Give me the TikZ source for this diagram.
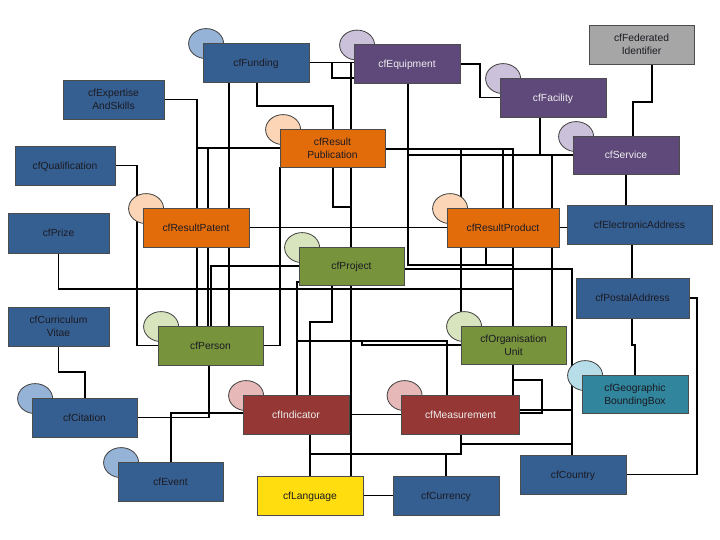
\documentclass[tikz,border=0pt]{standalone}
\usepackage{fontspec}
\setmainfont{Liberation Sans}
\usetikzlibrary{shapes.geometric,calc}
\pgfdeclarelayer{bg}
\pgfdeclarelayer{lines}
\pgfdeclarelayer{blobs}
\pgfsetlayers{bg,lines,blobs,main}
\definecolor{cblue}{HTML}{365F91}
\definecolor{eblue}{HTML}{95B3D7}
\definecolor{cpurple}{HTML}{5F497A}
\definecolor{epurple}{HTML}{CCC1DA}
\definecolor{corange}{HTML}{E36C0A}
\definecolor{eorange}{HTML}{FBD5B5}
\definecolor{cgreen}{HTML}{77933C}
\definecolor{egreen}{HTML}{D7E4BD}
\definecolor{cred}{HTML}{953735}
\definecolor{ered}{HTML}{E6B9B8}
\definecolor{cteal}{HTML}{31859C}
\definecolor{eteal}{HTML}{B7DEE8}
\definecolor{cgrey}{HTML}{A6A6A6}
\definecolor{cyellow}{HTML}{FFDD0F}
\definecolor{tdark}{HTML}{1A1A22}
\definecolor{tlight}{HTML}{EEEEEE}
\begin{document}
\begin{tikzpicture}[x=1pt,y=-1pt,
  ent/.style={draw=black!70, line width=0.8pt, inner sep=0pt, align=center,
    font=\fontsize{10.3}{12.8}\selectfont, text=tdark, text depth=-0.8pt,
    minimum width=106pt, minimum height=39pt},
  lightent/.style={ent, text=tlight},
  blob/.style={ellipse, draw=black!75, line width=0.8pt, inner sep=0pt,
    minimum width=35pt, minimum height=30pt},
  conn/.style={draw=black, line width=1.5pt}]
\begin{pgfonlayer}{bg}
\fill[white] (0,0) rectangle (720,540);
\end{pgfonlayer}
\useasboundingbox (0,0) rectangle (720,540);

% entities
\node[ent, fill=cblue] (funding) at (256,62.5) {cfFunding};
\node[lightent, fill=cpurple] (equipment) at (407,64) {cfEquipment};
\node[ent, fill=cgrey, minimum width=105pt] (federated) at (641.5,44.5) {cfFederated\\Identifier};
\node[lightent, fill=cpurple] (facility) at (553,97.5) {cfFacility};
\node[lightent, fill=cpurple, minimum height=38pt] (service) at (626,155) {cfService};
\node[ent, fill=cblue, minimum width=101pt] (expertise) at (113.5,99.5) {cfExpertise\\AndSkills};
\node[ent, fill=cblue, minimum width=100pt] (qualification) at (65,165.5) {cfQualification};
\node[ent, fill=corange, minimum width=105pt, minimum height=38pt] (resultpub) at (332.5,148) {cfResult\\Publication};
\node[ent, fill=cblue, minimum width=101pt, minimum height=40pt] (prize) at (58.5,233) {cfPrize};
\node[ent, fill=corange] (resultpatent) at (196,227.5) {cfResultPatent};
\node[ent, fill=cblue, minimum width=101pt] (cv) at (58.5,326.5) {cfCurriculum\\Vitae};
\node[ent, fill=cgreen, minimum width=105pt] (person) at (210.5,345.5) {cfPerson};
\node[ent, fill=cgreen, minimum width=105pt, minimum height=38pt] (project) at (351.5,266) {cfProject};
\node[ent, fill=corange, minimum width=112pt] (resultproduct) at (503,227.5) {cfResultProduct};
\node[ent, fill=cblue, minimum width=145pt] (ea) at (639.5,224.5) {cfElectronicAddress};
\node[ent, fill=cblue, minimum width=113pt, minimum height=40pt] (postal) at (632.5,298) {cfPostalAddress};
\node[ent, fill=cgreen, minimum width=105pt, minimum height=38pt] (orgunit) at (513.5,345) {cfOrganisation\\Unit};
\node[ent, fill=cteal, minimum height=38pt] (geobb) at (635,394) {cfGeographic\\BoundingBox};
\node[ent, fill=cblue] (country) at (573,474.5) {cfCountry};
\node[ent, fill=cblue] (currency) at (446,495.5) {cfCurrency};
\node[ent, fill=cyellow] (language) at (310,495.5) {cfLanguage};
\node[lightent, fill=cred] (indicator) at (296,414.5) {cfIndicator};
\node[lightent, fill=cred, minimum width=118pt] (measurement) at (460.5,414.5) {cfMeasurement};
\node[ent, fill=cblue, minimum width=105pt] (citation) at (84.5,417.5) {cfCitation};
\node[ent, fill=cblue, minimum width=105pt] (event) at (170.5,481.5) {cfEvent};

% ellipses behind boxes
\begin{pgfonlayer}{blobs}
\foreach \n/\c in {funding/eblue, equipment/epurple, facility/epurple, service/epurple,
  resultpub/eorange, resultpatent/eorange, resultproduct/eorange, project/egreen,
  person/egreen, orgunit/egreen, geobb/eteal, indicator/ered, measurement/ered,
  citation/eblue, event/eblue}
  \node[blob, fill=\c] (b-\n) at ($(\n.north west)+(3.5,1)$) {};
\end{pgfonlayer}

% connectors
\begin{pgfonlayer}{lines}
\draw[conn] (expertise.east) -| (person.north -| 197,0);
\draw[conn] (qualification.east) -| (person.west -| 137,0) -- (person.west);
\draw[conn] (resultpub.west -| 197,0) -- (resultpub.west);
\draw[conn] (resultpub.west -| 208,0) -- (person.north -| 208,0);
\draw[conn] (funding.south -| 229,0) -- (person.north -| 229,0);
\draw[conn] (funding.east) -| (language.north -| 351,0);
\draw[conn] (funding.east -| 351,0) -- (equipment.west |- funding.east);
\draw[conn] (funding.east -| 332,0) |- (equipment.west |- 0,78);
\draw[conn] (funding.south -| 257,0) |- (333,106) -- (resultpub.north -| 333,0);
\draw[conn] (resultpub.south -| 333,0) |- (351,207);
\draw[conn] (person.east) -| (resultpub.south -| 280,0);
\draw[conn] (resultpatent.east) -- (resultproduct.west);
\draw[conn] (person.north -| 211,0) |- (project.west);
\draw[conn] (prize.south) |- (513,289);
\draw[conn] (project.west |- 0,282) -| (indicator.north -| 297,0);
\draw[conn] (project.south -| 332,0) |- (310,322) -- (indicator.north -| 310,0);
\draw[conn] (297,341) -| (measurement.north -| 447,0);
\draw[conn] (orgunit.west) -| (362,341);
\draw[conn] (indicator.east) -- (measurement.west);
\draw[conn] (indicator.west |- 0,413) -| (event.north -| 171,0);
\draw[conn] (citation.east) -| (person.south -| 209,0);
\draw[conn] (cv.south) |- (85,372) -- (citation.north -| 85,0);
\draw[conn] (indicator.south -| language.north) -- (language.north);
\draw[conn] (measurement.south -| 461,0) |- (310,454);
\draw[conn] (currency.north |- 0,454) -- (currency.north);
\draw[conn] (language.east) -- (currency.west);
\draw[conn] (measurement.east |- 0,410) -- (572,410);
\draw[conn] (461,444) -- (572,444);
\draw[conn] (project.east |- 0,269) -| (country.north -| 572,0);
\draw[conn] (equipment.south -| 408,0) |- (513,265);
\draw[conn] (resultpub.east |- 0,149) -| (measurement.north -| 513,0);
\draw[conn] (461,149) -- (orgunit.north -| 461,0);
\draw[conn] (503,149) -- (resultproduct.north -| 503,0);
\draw[conn] (408,155) -- (service.west);
\draw[conn] (facility.south -| 540,0) -- (540,155);
\draw[conn] (552,155) -- (orgunit.north -| 552,0);
\draw[conn] (resultproduct.south -| 486,0) -- (486,265);
\draw[conn] (equipment.east) -| (480,97.5) -- (facility.west);
\draw[conn] (federated.south -| 652,0) |- (633,102) -- (service.north -| 633,0);
\draw[conn] (service.south) -- (ea.north -| service.south);
\draw[conn] (resultproduct.east) -- (ea.west |- resultproduct.east);
\draw[conn] (ea.south -| 632,0) -- (postal.north -| 632,0);
\draw[conn] (postal.south -| 632,0) |- (635,345) -- (geobb.north);
\draw[conn] (postal.east) -| (697,474.5) -- (country.east);
\draw[conn] (513,380) -| (542,413) -- (measurement.east |- 0,413);
\end{pgfonlayer}
\end{tikzpicture}
\end{document}
